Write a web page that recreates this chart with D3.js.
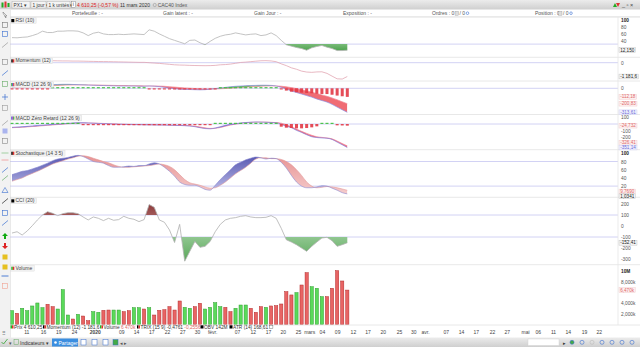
<!DOCTYPE html>
<meta charset="utf-8">
<style>
body { margin: 0; background: #fff; }
svg text { font-family: "Liberation Sans", Arial, sans-serif; }
</style>
<body>
<script src="https://d3js.org/d3.v7.min.js"></script>
<script>

// ---- data (one value per trading day, 67 days up to 11 mars 2020) ----
var rsi = [49, 48.5, 50, 51, 55, 60, 68, 64, 64, 68, 68, 69, 69, 68, 63, 55, 62, 65, 60, 58,
  58, 59, 58, 59, 60, 59, 58, 72, 68, 60, 53, 46, 41, 36, 31, 41, 42, 34, 28, 38,
  47, 53, 57, 59, 63, 60, 57, 59, 60, 55, 57, 63, 55, 41, 28, 24, 20, 17, 12, 19,
  23, 26, 21, 17, 11, 11, 12.15];

var momentum = [100, 120, 140, 160, 170, 180, 175, 170, 170, 160, 150, 150, 140, 140, 130, 120, 110, 100, 95, 90,
  80, 70, 60, 50, 40, 30, 30, 0, -30, -60, -100, -140, -180, -200, -210, -230, -240, -250, -257, -250,
  -230, -180, -160, -120, -50, 20, 50, 90, 130, 165, 174, 150, 88, -100, -250, -440, -560, -720, -800, -827,
  -790, -780, -913, -1150, -1380, -1400, -1181.6];

var macd = [20, 22, 25, 28, 32, 36, 40, 44, 48, 50, 52, 52, 50, 48, 45, 42, 40, 38, 36, 34,
  32, 30, 30, 30, 30, 28, 27, 30, 28, 22, 12, 2, -6, -12, -15, -16, -18, -20, -18, -12,
  -4, 4, 12, 20, 26, 30, 34, 36, 38, 40, 40, 38, 30, 12, -10, -35, -55, -75, -95, -115,
  -140, -160, -180, -210, -245, -280, -313.61];
var macdSignal = [15, 16, 18, 20, 22, 25, 28, 31, 34, 37, 40, 42, 43, 44, 44, 44, 43, 42, 41, 39,
  38, 36, 35, 34, 33, 32, 31, 31, 30, 29, 26, 21, 16, 10, 5, 1, -3, -6, -9, -9,
  -8, -6, -3, 1, 6, 11, 15, 20, 23, 27, 29, 31, 31, 27, 20, 9, -4, -18, -34, -50,
  -68, -86, -105, -126, -150, -176, -200.83];
var macdHist = [-4, -4, -3, -3, -3, -3, -3, -3, 2, 2, 2, 2, 2, 2, 2, 2, 2, 2, 2, 2,
  2, 2, 2, 2, 2, 2, 2, -2, -2, -2, -2, -2, -2, -6, -6, -6, -6, -6, -6, -6,
  -6, 2, 2, 2, 2, 5, 5, 5, 5, 5, 5, 5, 5, -15, -30, -44, -51, -57, -61, -65,
  -72, -74, -75, -84, -95, -104, -112.18];

var zrLine = [-50, -45, -40, -35, -28, -22, -18, -12, -5, 0, 5, 10, 15, 18, 18, 15, 12, 8, 5, 2,
  -2, -4, -6, -8, -10, -10, -12, -12, -14, -15, -16, -18, -20, -22, -25, -30, -40, -55, -68, -72,
  -60, -40, -20, -5, 5, 15, 22, 27, 30, 28, 26, 22, 18, -5, -35, -55, -95, -125, -160, -190,
  -202, -208, -212, -230, -270, -310, -351.14];
var zrSignal = [-55, -52, -48, -43, -38, -32, -26, -20, -14, -8, -2, 4, 9, 13, 15, 15, 14, 11, 8, 5,
  2, -1, -3, -5, -7, -8, -10, -11, -12, -13, -14, -16, -18, -20, -22, -26, -33, -44, -57, -66,
  -64, -52, -34, -16, -2, 9, 18, 24, 28, 29, 28, 25, 21, 12, -10, -40, -75, -110, -140, -168,
  -190, -200, -208, -222, -255, -292, -326.41];
var zrHist = [6, 6, 6, 6, 6, 6, 6, 6, 6, 6, 6, 6, 3, 3, -4, -4, -4, -4, -4, -4,
  -4, -4, -4, -4, -4, -4, -4, -4, -4, -4, -4, -4, -4, -4, -4, -4, -3, -3, -3, -3,
  8, 8, 8, 8, 8, 8, 8, 8, 8, 8, 8, 8, 8, -40, -55, -60, -65, -65, -60, -50,
  -35, 5, 5, 3, -20, -22, -24.732];

var stochK = [48, 52, 56, 58, 62, 66, 71, 76, 82, 86, 88, 90, 93, 95, 92, 86, 80, 78, 76, 70,
  66, 66, 67, 69, 68, 70, 70, 74, 77, 74, 66, 56, 44, 30, 24, 22, 22, 18, 12, 10,
  22, 36, 48, 60, 72, 78, 84, 88, 91, 89, 86, 88, 87, 78, 64, 46, 30, 20, 16, 16,
  18, 21, 20, 15, 10, 4, 1.0341];
var stochD = [32, 36, 40, 46, 51, 56, 62, 68, 74, 78, 82, 86, 89, 93, 94, 92, 88, 84, 80, 77,
  72, 68, 66, 66, 67, 68, 69, 70, 72, 74, 72, 68, 60, 48, 36, 28, 25, 22, 18, 15,
  16, 22, 30, 40, 50, 58, 66, 76, 86, 89, 89, 87, 87, 85, 80, 72, 60, 46, 30, 20,
  16, 17, 19, 18, 16, 13, 9.769];

var cci = [-64, -52, -82, -45, 3, 55, 100, 130, 115, 94, 112, 121, 121, 112, 82, 55, 82, 70, 49, 70,
  52, 58, 88, 70, 61, 40, 58, 195, 170, 55, 34, -36, -150, 15, -320, -230, -140, -194, -185, -140,
  -52, 15, 55, 70, 76, 88, 94, 82, 76, 76, 79, 94, 70, -21, -125, -146, -170, -200, -230, -185,
  -146, -109, -103, -133, -185, -170, -152.41];

// volume in thousands, up = 1 when the day closed higher
var volume = [2620, 2130, 3060, 2620, 3500, 4060, 3180, 3810, 3370, 2930, 6550, 1810, 1060, 1930, 1620, 750, 2430, 2310, 2680, 2740,
  2740, 2740, 2430, 2620, 3180, 3180, 2930, 3180, 1810, 2680, 2800, 3370, 2740, 4430, 3240, 3060, 3370, 4000, 2930, 3240,
  4120, 3370, 3240, 2430, 3060, 3680, 3680, 3060, 2310, 3370, 3240, 3500, 3560, 3870, 6170, 5560, 5990, 7420, 9720, 7100,
  6800, 5240, 5240, 6800, 10100, 8170, 6470];
var volUp = [1, 0, 1, 1, 1, 1, 1, 0, 0, 1, 1, 1, 0, 1, 0, 0, 1, 1, 0, 0,
  1, 1, 0, 0, 1, 1, 0, 1, 0, 0, 0, 0, 0, 0, 1, 1, 0, 0, 1, 1,
  1, 1, 0, 0, 1, 1, 1, 0, 0, 0, 1, 0, 0, 0, 0, 0, 1, 0, 0, 1,
  1, 1, 0, 0, 0, 0, 0];

// date axis: label and trading-day index
var dateLabels = ["11", "16", "19", "24", "2020", "09", "14", "17", "22", "27", "30", "févr.", "07", "12", "17", "20", "25", "mars", "04", "09",
  "12", "17", "20", "25", "30", "avr.", "07", "14", "17", "22", "27", "mai", "06", "11", "14", "19", "22"];
var dateIdx = [2.8, 6.1, 9.1, 12.2, 16.3, 21.5, 24.4, 27.4, 30.5, 33.5, 36.4, 39.4, 44.3, 47.4, 50.4, 53.3, 56.3, 58.5, 61, 64,
  67.1, 70, 73, 76.2, 79, 81.3, 85.4, 88.4, 91.3, 94.5, 97.4, 101, 103.5, 106.5, 109.4, 112.6, 115.5];

var fr = d3.formatLocale({decimal: ",", thousands: " ", grouping: [3], currency: ["", " €"], minus: "-"});

var svg = d3.select("body").append("svg")
    .attr("width", 640)
    .attr("height", 347);
var defs = svg.append("defs");

svg.append("rect").attr("width", 640).attr("height", 347).attr("fill", "#fff");

var L = 10, R = 618;
var x = d3.scaleLinear().domain([0, 66]).range([12, 347.3]);

var panels = {
  rsi:  {top: 17,    bottom: 57.3,  dom: [0, 100],        rng: [54.3, 20.3]},
  mom:  {top: 57.3,  bottom: 81,    dom: [-1181.6, 0],    rng: [76.5, 62.7]},
  macd: {top: 81,    bottom: 114.5, dom: [-313.61, 0],    rng: [112.3, 88.3]},
  zr:   {top: 114.5, bottom: 149.7, dom: [-100, 100],     rng: [130.7, 117.3]},
  sto:  {top: 149.7, bottom: 197.3, dom: [0, 100],        rng: [194.3, 153.3]},
  cci:  {top: 197.3, bottom: 264.7, dom: [-100, 100],     rng: [237, 215]},
  vol:  {top: 264.7, bottom: 325,   dom: [0, 10000],      rng: [324.7, 271.2]}
};

Object.keys(panels).forEach(function(k) {
  var p = panels[k];
  p.y = d3.scaleLinear().domain(p.dom).range(p.rng);
  defs.append("clipPath").attr("id", "clip-" + k)
    .append("rect").attr("x", L).attr("y", p.top).attr("width", R - L).attr("height", p.bottom - p.top);
  p.g = svg.append("g").attr("clip-path", "url(#clip-" + k + ")");
});

// gradients
function vgrad(id, stops) {
  var gr = defs.append("linearGradient").attr("id", id).attr("x1", 0).attr("x2", 0).attr("y1", 0).attr("y2", 1);
  stops.forEach(function(s) { gr.append("stop").attr("offset", s[0]).attr("stop-color", s[1]); });
}
vgrad("gGreen", [[0, "#d6efd6"], [1, "#4ea34e"]]);
vgrad("gGreenDown", [[0, "#d8efd8"], [1, "#5aa85a"]]);
vgrad("gRedUp", [[0, "#8e3c3c"], [1, "#f1d6d6"]]);
vgrad("gBlue", [[0, "#4646a8"], [1, "#b9b9e6"]]);
vgrad("gPink", [[0, "#e58a8a"], [1, "#f5cccc"]]);

// horizontal reference lines
function refLine(p, v) {
  p.g.append("line").attr("x1", L).attr("x2", R)
    .attr("y1", p.y(v)).attr("y2", p.y(v))
    .attr("stroke", "#d2d2f4").attr("stroke-width", 1);
}
refLine(panels.rsi, 30);
refLine(panels.mom, 0);
refLine(panels.macd, 0);
refLine(panels.zr, 0);
refLine(panels.sto, 80);
refLine(panels.sto, 20);
refLine(panels.cci, 100);
refLine(panels.cci, -100);

function lineOf(y, curve) {
  return d3.line().x(function(d, i) { return x(i); }).y(function(d) { return y(d); })
    .curve(curve || d3.curveLinear);
}

// filled band between a and b: colUp where a > b, colDown otherwise
var bandId = 0;
function band(p, a, b, colUp, colDown, curve) {
  var y = p.y;
  var id = "band" + (bandId++);
  var below = function(arr) {
    return d3.area().x(function(d, i) { return x(i); })
      .y0(p.bottom).y1(function(d) { return y(d); }).curve(curve)(arr);
  };
  var above = function(arr) {
    return d3.area().x(function(d, i) { return x(i); })
      .y0(p.top).y1(function(d) { return y(d); }).curve(curve)(arr);
  };
  defs.append("clipPath").attr("id", id + "a").append("path").attr("d", below(a));
  defs.append("clipPath").attr("id", id + "b").append("path").attr("d", below(b));
  p.g.append("path").attr("d", above(b)).attr("fill", colUp).attr("clip-path", "url(#" + id + "a)");
  p.g.append("path").attr("d", above(a)).attr("fill", colDown).attr("clip-path", "url(#" + id + "b)");
}

// fill between series and a level, on one side only
function levelFill(p, data, level, side, fill) {
  var id = "lvl" + (bandId++);
  var yl = p.y(level);
  var r = defs.append("clipPath").attr("id", id).append("rect").attr("x", L).attr("width", R - L);
  if (side === "below") r.attr("y", yl).attr("height", p.bottom - yl);
  else r.attr("y", p.top).attr("height", yl - p.top);
  p.g.append("path")
    .attr("d", d3.area().x(function(d, i) { return x(i); }).y0(yl).y1(function(d) { return p.y(d); })(data))
    .attr("fill", fill).attr("clip-path", "url(#" + id + ")");
}

// RSI
levelFill(panels.rsi, rsi, 30, "below", "url(#gGreen)");
panels.rsi.g.append("path").attr("d", lineOf(panels.rsi.y)(rsi))
  .attr("fill", "none").attr("stroke", "#b4b4b4").attr("stroke-width", 0.8);

// Momentum
panels.mom.g.append("path").attr("d", lineOf(panels.mom.y)(momentum))
  .attr("fill", "none").attr("stroke", "#e2a6b2").attr("stroke-width", 0.8);

// MACD
band(panels.macd, macd, macdSignal, "#58c058", "#f06c74", d3.curveMonotoneX);
panels.macd.g.append("path").attr("d", lineOf(panels.macd.y, d3.curveMonotoneX)(macdSignal))
  .attr("fill", "none").attr("stroke", "#f08a96").attr("stroke-width", 0.7);
panels.macd.g.append("path").attr("d", lineOf(panels.macd.y, d3.curveMonotoneX)(macd))
  .attr("fill", "none").attr("stroke", "#8a8ae0").attr("stroke-width", 0.7);

function histBars(p, data, w) {
  var y0 = p.y(0);
  p.g.selectAll(null).data(data).enter().append("rect")
    .attr("x", function(d, i) { return x(i) - w / 2; })
    .attr("width", w)
    .attr("y", function(d) { return d >= 0 ? Math.min(p.y(d), y0 - 1.2) : y0; })
    .attr("height", function(d) { return Math.max(1.2, Math.abs(p.y(d) - y0)); })
    .attr("fill", function(d) { return d >= 0 ? "#3cc03c" : "#e23a46"; })
    .attr("opacity", 0.9);
}
histBars(panels.macd, macdHist, 3);

// MACD zero retard
band(panels.zr, zrLine, zrSignal, "#5a5ad0", "#f26a78", d3.curveMonotoneX);
panels.zr.g.append("path").attr("d", lineOf(panels.zr.y, d3.curveMonotoneX)(zrSignal))
  .attr("fill", "none").attr("stroke", "#f08a9a").attr("stroke-width", 0.7);
panels.zr.g.append("path").attr("d", lineOf(panels.zr.y, d3.curveMonotoneX)(zrLine))
  .attr("fill", "none").attr("stroke", "#8080e0").attr("stroke-width", 0.7);
histBars(panels.zr, zrHist, 3);

// Stochastique
band(panels.sto, stochK, stochD, "url(#gBlue)", "url(#gPink)", d3.curveMonotoneX);
panels.sto.g.append("path").attr("d", lineOf(panels.sto.y, d3.curveMonotoneX)(stochD))
  .attr("fill", "none").attr("stroke", "#e49a9a").attr("stroke-width", 0.6);
panels.sto.g.append("path").attr("d", lineOf(panels.sto.y, d3.curveMonotoneX)(stochK))
  .attr("fill", "none").attr("stroke", "#8a8ad2").attr("stroke-width", 0.6);

// CCI
levelFill(panels.cci, cci, 100, "above", "url(#gRedUp)");
levelFill(panels.cci, cci, -100, "below", "url(#gGreenDown)");
panels.cci.g.append("path").attr("d", lineOf(panels.cci.y)(cci))
  .attr("fill", "none").attr("stroke", "#b0b0b0").attr("stroke-width", 0.8);

// Volume
var vy = panels.vol.y;
panels.vol.g.selectAll(".vbar").data(volume).enter().append("rect")
  .attr("x", function(d, i) { return x(i) - 1.6; })
  .attr("width", 3.2)
  .attr("y", function(d) { return vy(d); })
  .attr("height", function(d) { return vy(0) - vy(d); })
  .attr("fill", function(d, i) { return volUp[i] ? "#5ada5a" : "#e86464"; })
  .attr("stroke", function(d, i) { return volUp[i] ? "#2f9e2f" : "#b32a2a"; })
  .attr("stroke-width", 0.5);

// panel separators and frame
Object.keys(panels).forEach(function(k) {
  var p = panels[k];
  svg.append("line").attr("x1", L).attr("x2", 640).attr("y1", p.top).attr("y2", p.top)
    .attr("stroke", "#e2e2e2").attr("stroke-width", 0.8);
});
svg.append("line").attr("x1", L).attr("x2", 640).attr("y1", 325).attr("y2", 325)
  .attr("stroke", "#e2e2e2").attr("stroke-width", 0.8);
svg.append("line").attr("x1", R).attr("x2", R).attr("y1", 17).attr("y2", 325)
  .attr("stroke", "#e6e6e6").attr("stroke-width", 0.8);
svg.append("line").attr("x1", L).attr("x2", L).attr("y1", 10).attr("y2", 338)
  .attr("stroke", "#c8c8c8").attr("stroke-width", 0.8);

// right axes (ticks hidden behind value boxes in the original are left out)
var axisTicks = {
  rsi: [100, 80, 60, 40],
  mom: [0],
  macd: [0],
  zr: [100, -100, -200],
  sto: [100, 80, 60, 40, 20],
  cci: [200, 100, 0, -100, -200, -300],
  vol: [10000, 8000, 4000, 2000]
};
Object.keys(axisTicks).forEach(function(k) {
  var p = panels[k];
  var ax = d3.axisRight(p.y).tickValues(axisTicks[k]).tickSize(0).tickPadding(3)
    .tickFormat(function(d) {
      if (k === "vol") return d >= 10000 ? "10M" : fr.format(",")(d).replace(" ", ",") + "k";
      return d;
    });
  var g = svg.append("g").attr("transform", "translate(" + R + ",0)").call(ax);
  g.select(".domain").remove();
  var strong = function(i) { return i === 0 && (k === "rsi" || k === "sto" || k === "vol"); };
  g.selectAll("text").attr("font-size", 4.8)
    .attr("font-weight", function(d, i) { return strong(i) ? "bold" : null; })
    .attr("fill", function(d, i) { return strong(i) ? "#222" : "#555"; });
});

// value boxes on the right axis
var valueBoxes = [
  {p: "rsi", v: rsi[66], t: fr.format(".3f")(rsi[66]), c: "#222", bg: "#f4f4f4", bd: "#bbb"},
  {p: "mom", v: momentum[66], t: fr.format(",.1f")(momentum[66]), c: "#222", bg: "#f4f4f4", bd: "#bbb"},
  {p: "macd", v: macdHist[66], t: fr.format(".2f")(macdHist[66]), c: "#e06a6a", bg: "#fdf0f0", bd: "#efc4c4"},
  {p: "macd", v: macdSignal[66], t: fr.format(".2f")(macdSignal[66]), c: "#e06a6a", bg: "#fdf0f0", bd: "#efc4c4"},
  {p: "macd", v: macd[66], t: fr.format(".2f")(macd[66]), c: "#6a6ad8", bg: "#f1f1fd", bd: "#c6c6ef"},
  {p: "zr", v: zrHist[66], t: fr.format(".3f")(zrHist[66]), c: "#e06a6a", bg: "#fdf0f0", bd: "#efc4c4"},
  {p: "zr", v: zrSignal[66], t: fr.format(".2f")(zrSignal[66]), c: "#e06a6a", bg: "#fdf0f0", bd: "#efc4c4"},
  {p: "zr", v: zrLine[66], t: fr.format(".2f")(zrLine[66]), c: "#6a6ad8", bg: "#f1f1fd", bd: "#c6c6ef"},
  {p: "sto", v: stochD[66], t: fr.format(".4f")(stochD[66]), c: "#e06a6a", bg: "#fdf0f0", bd: "#efc4c4"},
  {p: "sto", v: stochK[66], t: fr.format(".4f")(stochK[66]), c: "#222", bg: "#f4f4f4", bd: "#bbb"},
  {p: "cci", v: cci[66], t: fr.format(".2f")(cci[66]), c: "#222", bg: "#f4f4f4", bd: "#bbb"},
  {p: "vol", v: volume[66], t: fr.format(",.0f")(volume[66]).replace(" ", ",") + "k", c: "#e06a6a", bg: "#fdf0f0", bd: "#efc4c4"}
];
// keep boxes clear of the tick labels above them and of each other
var BH = 4.8;
valueBoxes.forEach(function(b) {
  var p = panels[b.p];
  b.yy = p.y(b.v);
  axisTicks[b.p].forEach(function(t) {
    var ty = p.y(t);
    if (ty <= b.yy && b.yy - ty < BH + 0.6) b.yy = ty + BH + 0.6;
  });
});
for (var i = 0; i < valueBoxes.length - 1; i++) {
  var a = valueBoxes[i], b = valueBoxes[i + 1];
  if (a.p !== b.p || b.yy - a.yy >= BH) continue;
  if (a.yy + BH <= panels[b.p].bottom - 0.9) b.yy = a.yy + BH;
  else a.yy = b.yy - BH;
}
valueBoxes.forEach(function(b) {
  var g = svg.append("g").attr("transform", "translate(" + (R + 1) + "," + b.yy + ")");
  var r = g.append("rect").attr("x", 0).attr("y", -BH / 2).attr("height", BH)
    .attr("fill", b.bg).attr("stroke", b.bd).attr("stroke-width", 0.4);
  var t = g.append("text").attr("x", 1.2).attr("y", 1.6).attr("font-size", 4.6)
    .attr("fill", b.c).text(b.t);
  r.attr("width", t.node().getComputedTextLength() + 2.4);
});

// panel titles
var titles = [
  {p: "rsi", t: "RSI (10)", c: ["#000"]},
  {p: "mom", t: "Momentum (12)", c: ["#000", "#d33"]},
  {p: "macd", t: "MACD (12 26 9)", c: ["#2a2", "#44c", "#d33"]},
  {p: "zr", t: "MACD Zéro Retard (12 26 9)", c: ["#44c", "#a3c", "#2a2"]},
  {p: "sto", t: "Stochastique (14 3 5)", c: ["#000", "#d33"]},
  {p: "cci", t: "CCI (20)", c: ["#000"]},
  {p: "vol", t: "Volume", c: ["#2b2", "#d33"]}
];
titles.forEach(function(d) {
  var g = svg.append("g").attr("transform", "translate(" + (L + 0.5) + "," + (panels[d.p].top + 0.8) + ")");
  var r = g.append("rect").attr("height", 5.6).attr("fill", "#f3f3f3").attr("stroke", "#d6d6d6").attr("stroke-width", 0.4);
  var w = 3 / d.c.length;
  d.c.forEach(function(c, i) {
    g.append("rect").attr("x", 0.8 + i * w).attr("y", 1.2).attr("width", w).attr("height", 3.2).attr("fill", c);
  });
  var t = g.append("text").attr("x", 5).attr("y", 4.3).attr("font-size", 5).attr("fill", "#444").text(d.t);
  r.attr("width", t.node().getComputedTextLength() + 7);
});

// date axis
var dax = d3.axisBottom(x).tickValues(dateIdx).tickSize(0).tickPadding(0)
  .tickFormat(function(d, i) { return dateLabels[i]; });
var dg = svg.append("g").attr("transform", "translate(0,331)").call(dax);
dg.select(".domain").remove();
dg.selectAll("text").attr("font-size", 5).attr("fill", "#444").attr("dy", "0.6em")
  .attr("font-weight", function(d, i) { return dateLabels[i] === "2020" ? "bold" : null; });

// legend row
var legend = [
  {x: 10.5, c: ["#2b2", "#d33"], t: "Prix 4 610,25", red: ""},
  {x: 43, c: ["#000", "#d33"], t: "Momentum (12) -1 181,6", red: ""},
  {x: 100, c: ["#2b2", "#d33"], t: "Volume ", red: "6 470k"},
  {x: 137, c: ["#000", "#d33"], t: "TRIX (15 9) -0,4761 ", red: "-0,2556"},
  {x: 200.5, c: ["#000"], t: "OBV 142M", red: ""},
  {x: 229.5, c: ["#000"], t: "ATR (14) 168,61", red: ""}
];
legend.forEach(function(d) {
  var w = 3 / d.c.length;
  d.c.forEach(function(c, i) {
    svg.append("rect").attr("x", d.x + i * w).attr("y", 325.3).attr("width", w).attr("height", 3.2).attr("fill", c);
  });
  var t = svg.append("text").attr("x", d.x + 3.6).attr("y", 328.6).attr("font-size", 4.8).attr("fill", "#333");
  t.append("tspan").text(d.t);
  if (d.red) t.append("tspan").attr("fill", "#e06a6a").text(d.red);
});
svg.append("rect").attr("x", 269.5).attr("y", 325.3).attr("width", 3.4).attr("height", 3.4)
  .attr("fill", "#fff").attr("stroke", "#555").attr("stroke-width", 0.4);

// ---- window chrome ----
// top toolbar
vgrad("gBar", [[0, "#ececec"], [1, "#cfcfcf"]]);
svg.append("rect").attr("x", 0).attr("y", 0).attr("width", 640).attr("height", 9.5).attr("fill", "url(#gBar)");
svg.append("rect").attr("x", 1.5).attr("y", 2.5).attr("width", 2).attr("height", 5).attr("fill", "#2a2");
svg.append("rect").attr("x", 4.5).attr("y", 1.5).attr("width", 2).attr("height", 6).attr("fill", "#d33");
svg.append("rect").attr("x", 7.5).attr("y", 3).attr("width", 2).attr("height", 4).attr("fill", "#2a2");
var topItems = [
  {x: 12, w: 18, t: "PX1 ▾"},
  {x: 31, w: 15, t: "1 jour ▾"},
  {x: 47, w: 23, t: "1 k unités ▾"}
];
topItems.forEach(function(d) {
  svg.append("rect").attr("x", d.x).attr("y", 1.5).attr("width", d.w).attr("height", 6.5)
    .attr("fill", "#f4f4f4").attr("stroke", "#aaa").attr("stroke-width", 0.4);
  svg.append("text").attr("x", d.x + 1.5).attr("y", 6.6).attr("font-size", 4.8).attr("fill", "#333").text(d.t);
});
svg.append("rect").attr("x", 71.5).attr("y", 1.5).attr("width", 4).attr("height", 6)
  .attr("fill", "#fff").attr("stroke", "#777").attr("stroke-width", 0.4);
svg.append("text").attr("x", 72.8).attr("y", 6.4).attr("font-size", 4.5).attr("fill", "#333").text("i");
var quote = svg.append("text").attr("x", 77).attr("y", 6.8).attr("font-size", 5).attr("fill", "#d22").text("4 610,25 (-0,57 %)");
var qEnd = 77 + quote.node().getComputedTextLength() + 1.5;
var qDate = svg.append("text").attr("x", qEnd).attr("y", 6.8).attr("font-size", 5).attr("fill", "#333").text("11 mars 2020");
var dEnd = qEnd + qDate.node().getComputedTextLength() + 3;
svg.append("circle").attr("cx", dEnd + 1.6).attr("cy", 5).attr("r", 1.6).attr("fill", "none").attr("stroke", "#777").attr("stroke-width", 0.4);
svg.append("text").attr("x", dEnd + 4.5).attr("y", 6.8).attr("font-size", 5).attr("fill", "#555").text("CAC40 Index");
svg.append("path").attr("d", "M613,7 l2,-4 l2,4 z").attr("fill", "#2a2");
svg.append("path").attr("d", "M616,3 l2,4 l2,-4 z").attr("fill", "#d33");
svg.append("text").attr("x", 622).attr("y", 7).attr("font-size", 5.5).attr("fill", "#444").text("_ ▫ ×");

// header row
var header = [
  {x: 72, t: "Portefeuille : -"}, {x: 163, t: "Gain latent : -"}, {x: 254, t: "Gain Jour : -"},
  {x: 343, t: "Exposition : -"}, {x: 432, t: "Ordres : 0"}, {x: 535, t: "Position : 0"}
];
header.forEach(function(d) {
  svg.append("text").attr("x", d.x).attr("y", 15).attr("font-size", 5).attr("fill", "#555").text(d.t);
});
[[455, 461.5], [558.5, 565]].forEach(function(p) {
  svg.append("rect").attr("x", p[0]).attr("y", 11.3).attr("width", 3.5).attr("height", 4)
    .attr("fill", "#ddd").attr("stroke", "#888").attr("stroke-width", 0.3);
  svg.append("text").attr("x", p[0] + 4.5).attr("y", 15).attr("font-size", 5).attr("fill", "#555").text("/ 0");
  svg.append("circle").attr("cx", p[1] + 6).attr("cy", 13.2).attr("r", 1.3).attr("fill", "none").attr("stroke", "#3a6fd0").attr("stroke-width", 0.6);
});
svg.append("line").attr("x1", L).attr("x2", 640).attr("y1", 16.8).attr("y2", 16.8).attr("stroke", "#ddd").attr("stroke-width", 0.6);

// left toolbar
svg.append("rect").attr("x", 0).attr("y", 9.5).attr("width", 10).attr("height", 328.5).attr("fill", "#f2f2f2");
var icons = [
  {y: 15, k: "arrow", c: "#666"}, {y: 25, k: "box", c: "#777"}, {y: 34, k: "box", c: "#3a6fd0"},
  {y: 45, k: "diag", c: "#999"}, {y: 62, k: "box", c: "#888"}, {y: 73, k: "diag", c: "#3a6fd0"},
  {y: 84, k: "box", c: "#6a6"}, {y: 97, k: "cross", c: "#3a6fd0"}, {y: 108, k: "box", c: "#999"},
  {y: 123, k: "diag", c: "#999"}, {y: 131, k: "fill", c: "#aab4ee"}, {y: 141, k: "box", c: "#888"},
  {y: 153, k: "hline", c: "#9c9"}, {y: 160, k: "hline", c: "#f0a0a0"}, {y: 170, k: "diag", c: "#3a6fd0"},
  {y: 178, k: "diag", c: "#6a6"}, {y: 190, k: "tri", c: "#3a6fd0"}, {y: 201, k: "diag", c: "#222"},
  {y: 213, k: "box", c: "#3a6fd0"}, {y: 223, k: "diag", c: "#3a6fd0"}, {y: 236, k: "up", c: "#1a1"},
  {y: 246, k: "down", c: "#d22"}, {y: 257, k: "fill", c: "#e6c020"}, {y: 267, k: "fill", c: "#e6c020"},
  {y: 276, k: "hline", c: "#3a6fd0"}, {y: 286, k: "box", c: "#f0a090"}
];
icons.forEach(function(d) {
  var g = svg.append("g").attr("transform", "translate(5," + d.y + ")");
  if (d.k === "box") g.append("rect").attr("x", -2.5).attr("y", -2.5).attr("width", 5).attr("height", 5)
    .attr("fill", "none").attr("stroke", d.c).attr("stroke-width", 0.6);
  if (d.k === "fill") g.append("rect").attr("x", -2.5).attr("y", -2.5).attr("width", 5).attr("height", 5).attr("fill", d.c);
  if (d.k === "diag") g.append("line").attr("x1", -3).attr("y1", 2.5).attr("x2", 3).attr("y2", -2.5).attr("stroke", d.c).attr("stroke-width", 0.7);
  if (d.k === "hline") g.append("line").attr("x1", -3.5).attr("x2", 3.5).attr("stroke", d.c).attr("stroke-width", 0.9);
  if (d.k === "cross") g.append("path").attr("d", "M-3,0H3M0,-3V3").attr("stroke", d.c).attr("stroke-width", 0.7);
  if (d.k === "tri") g.append("path").attr("d", "M-3,2.5L0,-2.5L3,2.5Z").attr("fill", "none").attr("stroke", d.c).attr("stroke-width", 0.6);
  if (d.k === "arrow") g.append("path").attr("d", "M-2,-3L2,1L0,1L1,3L-2,-2Z").attr("fill", "#fff").attr("stroke", d.c).attr("stroke-width", 0.5);
  if (d.k === "up") g.append("path").attr("d", "M0,-3L3,0H1V3H-1V0H-3Z").attr("fill", d.c);
  if (d.k === "down") g.append("path").attr("d", "M0,3L3,0H1V-3H-1V0H-3Z").attr("fill", d.c);
});
svg.append("text").attr("x", 1.5).attr("y", 335).attr("font-size", 5).attr("fill", "#555").text("⠿");

// bottom toolbar
svg.append("rect").attr("x", 0).attr("y", 337.5).attr("width", 640).attr("height", 9.5).attr("fill", "url(#gBar)");
svg.append("path").attr("d", "M1.5,342 l2,2 l4,-5").attr("fill", "none").attr("stroke", "#4a4").attr("stroke-width", 0.9);
svg.append("text").attr("x", 9).attr("y", 344.5).attr("font-size", 4.5).attr("fill", "#555").text("▾");
svg.append("rect").attr("x", 14).attr("y", 339.5).attr("width", 4.5).attr("height", 5).attr("fill", "none").attr("stroke", "#6a6").attr("stroke-width", 0.5);
svg.append("text").attr("x", 20).attr("y", 344.5).attr("font-size", 5).attr("fill", "#333").text("Indicateurs ▾");
svg.append("rect").attr("x", 52).attr("y", 338.5).attr("width", 26).attr("height", 8).attr("fill", "#3b8ee0");
svg.append("text").attr("x", 58.5).attr("y", 344.5).attr("font-size", 5).attr("fill", "#fff").text("Partager");
svg.append("circle").attr("cx", 55.5).attr("cy", 342.5).attr("r", 1.3).attr("fill", "#fff");
[81, 92, 103, 113].forEach(function(px, i) {
  svg.append("rect").attr("x", px).attr("y", 339.5).attr("width", 5).attr("height", 5.5)
    .attr("fill", i === 3 ? "#4a4" : "#fff").attr("stroke", "#3a6fd0").attr("stroke-width", 0.5);
});
svg.append("text").attr("x", 119.5).attr("y", 344.5).attr("font-size", 4.5).attr("fill", "#555").text("◂ ▸");
svg.append("rect").attr("x", 528).attr("y", 339).attr("width", 31).attr("height", 6.5).attr("fill", "#fff").attr("stroke", "#ccc").attr("stroke-width", 0.4);
svg.append("text").attr("x", 563).attr("y", 344.5).attr("font-size", 4.5).attr("fill", "#333").text("▸");
[572, 582, 592, 602, 612, 622, 632].forEach(function(px, i) {
  svg.append("circle").attr("cx", px).attr("cy", 342.3).attr("r", 2)
    .attr("fill", i === 0 ? "#4a4" : "none").attr("stroke", i === 2 ? "#bbb" : "#3a6fd0").attr("stroke-width", 0.6);
});

</script>
